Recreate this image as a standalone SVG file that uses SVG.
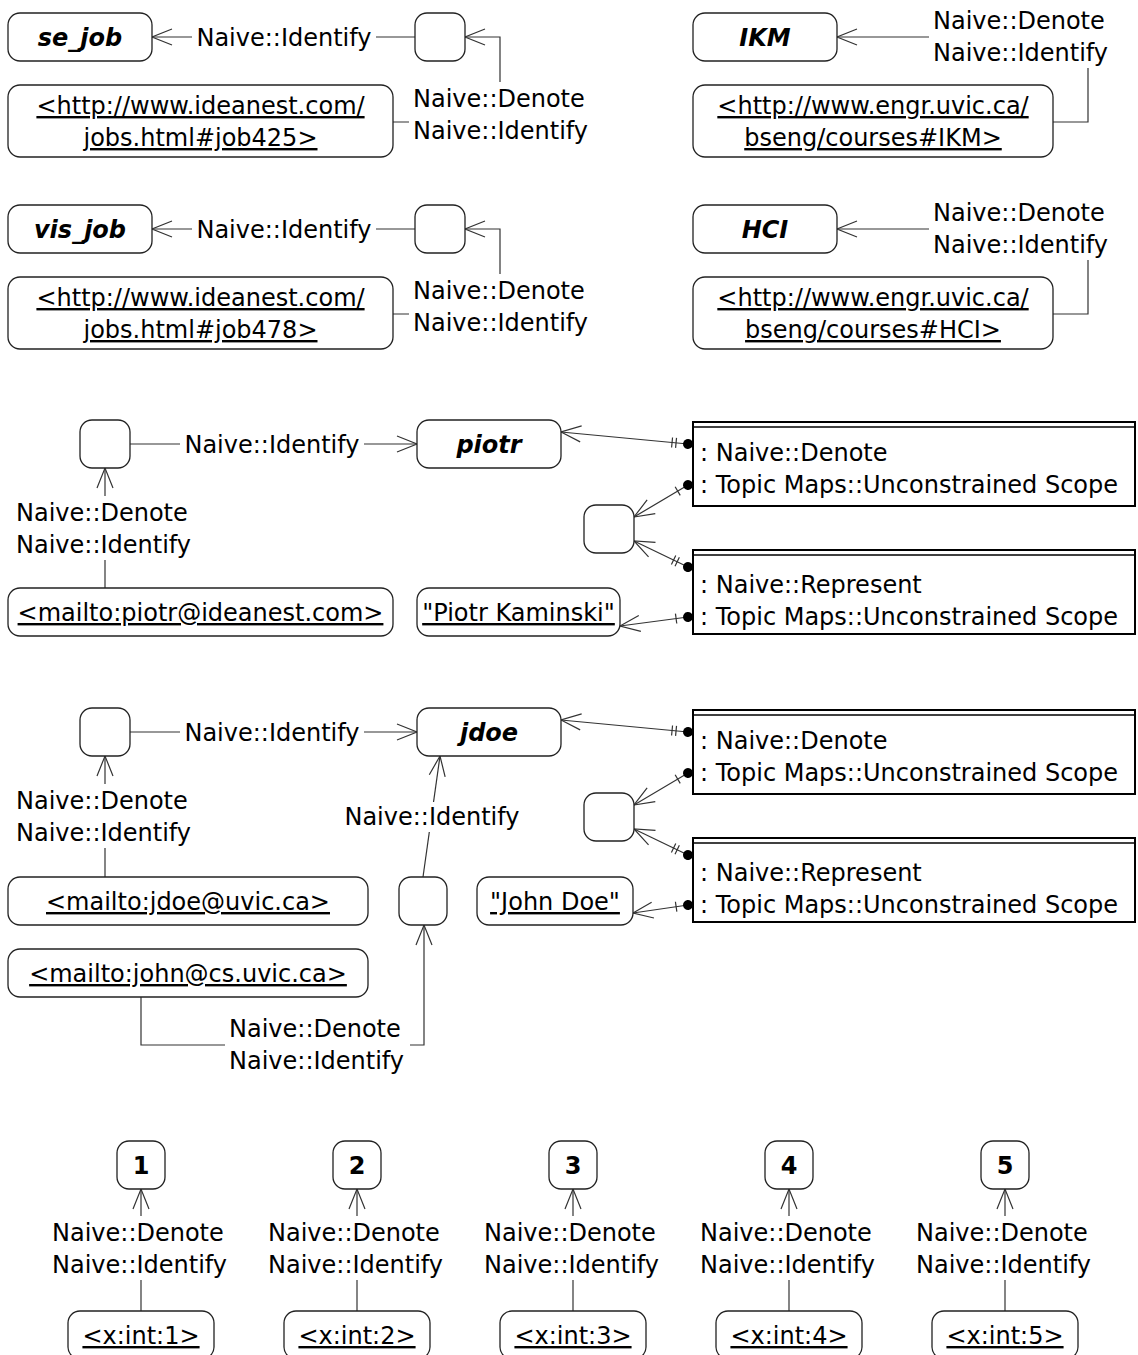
<svg xmlns="http://www.w3.org/2000/svg" width="1138" height="1355" viewBox="0 0 1138 1355">
<style>
text{font-family:"DejaVu Sans","Liberation Sans",sans-serif;font-size:24px;fill:#000}
.nm{font-weight:bold;font-style:italic;text-anchor:middle}
.num{font-weight:bold;text-anchor:middle}
.u{text-decoration:underline;text-anchor:middle}
.mid{text-anchor:middle}
.box{fill:#fff;stroke:#222;stroke-width:1.3}
.scope{fill:#fff;stroke:#000;stroke-width:2}
.dl{stroke:#000;stroke-width:1.5}
.c{fill:none;stroke:#333;stroke-width:1.2}
.bg{fill:#fff}
</style>
<defs>
<marker id="arr" viewBox="-22 -10 24 20" markerWidth="24" markerHeight="20" refX="0" refY="0" orient="auto" markerUnits="userSpaceOnUse">
<path d="M-20,-8 L0,0 L-20,8" fill="none" stroke="#333" stroke-width="1.2"/>
</marker>
<marker id="dot2" viewBox="-8 -8 28 16" markerWidth="28" markerHeight="16" refX="0" refY="0" orient="auto" markerUnits="userSpaceOnUse">
<circle cx="0" cy="0" r="5" fill="#000"/>
<path d="M12,-5 V5 M16,-5 V5" stroke="#333" stroke-width="1.2"/>
</marker>
<marker id="dot1" viewBox="-8 -8 28 16" markerWidth="28" markerHeight="16" refX="0" refY="0" orient="auto" markerUnits="userSpaceOnUse">
<circle cx="0" cy="0" r="5" fill="#000"/>
<path d="M12,-5 V5" stroke="#333" stroke-width="1.2"/>
</marker>
</defs>

<g id="connectors">
<!-- row 1 -->
<path class="c" d="M415,37 H152" marker-end="url(#arr)"/>
<rect class="bg" x="192" y="24" width="184" height="28"/>
<text class="mid" x="284" y="46">Naive::Identify</text>
<path class="c" d="M393,122 H500 V37 H465" marker-end="url(#arr)"/>
<rect class="bg" x="409" y="82" width="185" height="64"/>
<text x="413" y="107">Naive::Denote</text>
<text x="413" y="139">Naive::Identify</text>
<path class="c" d="M1053,122 H1088 V37 H837" marker-end="url(#arr)"/>
<rect class="bg" x="929" y="4" width="185" height="64"/>
<text x="933" y="29">Naive::Denote</text>
<text x="933" y="61">Naive::Identify</text>
<!-- row 2 -->
<path class="c" d="M415,229 H152" marker-end="url(#arr)"/>
<rect class="bg" x="192" y="216" width="184" height="28"/>
<text class="mid" x="284" y="238">Naive::Identify</text>
<path class="c" d="M393,314 H500 V229 H465" marker-end="url(#arr)"/>
<rect class="bg" x="409" y="274" width="185" height="64"/>
<text x="413" y="299">Naive::Denote</text>
<text x="413" y="331">Naive::Identify</text>
<path class="c" d="M1053,314 H1088 V229 H837" marker-end="url(#arr)"/>
<rect class="bg" x="929" y="196" width="185" height="64"/>
<text x="933" y="221">Naive::Denote</text>
<text x="933" y="253">Naive::Identify</text>
<!-- piotr -->
<path class="c" d="M130,444 H417" marker-end="url(#arr)"/>
<rect class="bg" x="180" y="431" width="184" height="28"/>
<text class="mid" x="272" y="453">Naive::Identify</text>
<path class="c" d="M105,588 V468" marker-end="url(#arr)"/>
<rect class="bg" x="12" y="496" width="186" height="64"/>
<text x="16" y="521">Naive::Denote</text>
<text x="16" y="553">Naive::Identify</text>
<path class="c" d="M688,444 L561,432" marker-start="url(#dot2)" marker-end="url(#arr)"/>
<path class="c" d="M688,485 L634,517" marker-start="url(#dot1)" marker-end="url(#arr)"/>
<path class="c" d="M688,567 L634,541" marker-start="url(#dot2)" marker-end="url(#arr)"/>
<path class="c" d="M688,617 L620,626" marker-start="url(#dot1)" marker-end="url(#arr)"/>
<!-- jdoe -->
<path class="c" d="M130,732 H417" marker-end="url(#arr)"/>
<rect class="bg" x="180" y="719" width="184" height="28"/>
<text class="mid" x="272" y="741">Naive::Identify</text>
<path class="c" d="M105,877 V756" marker-end="url(#arr)"/>
<rect class="bg" x="12" y="784" width="186" height="64"/>
<text x="16" y="809">Naive::Denote</text>
<text x="16" y="841">Naive::Identify</text>
<path class="c" d="M423,877 L440,756" marker-end="url(#arr)"/>
<rect class="bg" x="340" y="802" width="184" height="30"/>
<text class="mid" x="432" y="825">Naive::Identify</text>
<path class="c" d="M141,997 V1045 H424 V925" marker-end="url(#arr)"/>
<rect class="bg" x="225" y="1012" width="185" height="64"/>
<text x="229" y="1037">Naive::Denote</text>
<text x="229" y="1069">Naive::Identify</text>
<path class="c" d="M688,732 L561,720" marker-start="url(#dot2)" marker-end="url(#arr)"/>
<path class="c" d="M688,773 L634,805" marker-start="url(#dot1)" marker-end="url(#arr)"/>
<path class="c" d="M688,855 L634,829" marker-start="url(#dot2)" marker-end="url(#arr)"/>
<path class="c" d="M688,905 L633,913" marker-start="url(#dot1)" marker-end="url(#arr)"/>
<!-- bottom row -->
<path class="c" d="M141,1311 V1189" marker-end="url(#arr)"/>
<rect class="bg" x="48" y="1216" width="186" height="64"/>
<text x="52" y="1241">Naive::Denote</text>
<text x="52" y="1273">Naive::Identify</text>
<path class="c" d="M357,1311 V1189" marker-end="url(#arr)"/>
<rect class="bg" x="264" y="1216" width="186" height="64"/>
<text x="268" y="1241">Naive::Denote</text>
<text x="268" y="1273">Naive::Identify</text>
<path class="c" d="M573,1311 V1189" marker-end="url(#arr)"/>
<rect class="bg" x="480" y="1216" width="186" height="64"/>
<text x="484" y="1241">Naive::Denote</text>
<text x="484" y="1273">Naive::Identify</text>
<path class="c" d="M789,1311 V1189" marker-end="url(#arr)"/>
<rect class="bg" x="696" y="1216" width="186" height="64"/>
<text x="700" y="1241">Naive::Denote</text>
<text x="700" y="1273">Naive::Identify</text>
<path class="c" d="M1005,1311 V1189" marker-end="url(#arr)"/>
<rect class="bg" x="912" y="1216" width="186" height="64"/>
<text x="916" y="1241">Naive::Denote</text>
<text x="916" y="1273">Naive::Identify</text>
</g>

<g id="se_job"><rect class="box" x="8" y="13" width="144" height="48" rx="12"/><text class="nm" x="80" y="46">se_job</text></g>
<g id="anon1"><rect class="box" x="415" y="13" width="50" height="48" rx="12"/></g>
<g id="url_job425"><rect class="box" x="8" y="85" width="385" height="72" rx="12"/><text class="u" x="200.5" y="114">&lt;http://www.ideanest.com/</text><text class="u" x="200.5" y="146">jobs.html#job425&gt;</text></g>
<g id="ikm"><rect class="box" x="693" y="13" width="144" height="48" rx="12"/><text class="nm" x="765" y="46">IKM</text></g>
<g id="url_ikm"><rect class="box" x="693" y="85" width="360" height="72" rx="12"/><text class="u" x="873" y="114">&lt;http://www.engr.uvic.ca/</text><text class="u" x="873" y="146">bseng/courses#IKM&gt;</text></g>

<g id="vis_job"><rect class="box" x="8" y="205" width="144" height="48" rx="12"/><text class="nm" x="80" y="238">vis_job</text></g>
<g id="anon2"><rect class="box" x="415" y="205" width="50" height="48" rx="12"/></g>
<g id="url_job478"><rect class="box" x="8" y="277" width="385" height="72" rx="12"/><text class="u" x="200.5" y="306">&lt;http://www.ideanest.com/</text><text class="u" x="200.5" y="338">jobs.html#job478&gt;</text></g>
<g id="hci"><rect class="box" x="693" y="205" width="144" height="48" rx="12"/><text class="nm" x="765" y="238">HCI</text></g>
<g id="url_hci"><rect class="box" x="693" y="277" width="360" height="72" rx="12"/><text class="u" x="873" y="306">&lt;http://www.engr.uvic.ca/</text><text class="u" x="873" y="338">bseng/courses#HCI&gt;</text></g>

<g id="anon3"><rect class="box" x="80" y="420" width="50" height="48" rx="12"/></g>
<g id="piotr"><rect class="box" x="417" y="420" width="144" height="48" rx="12"/><text class="nm" x="489" y="453">piotr</text></g>
<g id="mail_piotr"><rect class="box" x="8" y="588" width="385" height="48" rx="12"/><text class="u" x="200.5" y="621">&lt;mailto:piotr@ideanest.com&gt;</text></g>
<g id="scope_p1"><rect class="scope" x="693" y="422" width="442" height="84"/><line class="dl" x1="693" y1="427" x2="1135" y2="427"/><text x="700" y="461">: Naive::Denote</text><text x="700" y="493">: Topic Maps::Unconstrained Scope</text></g>
<g id="scope_p2"><rect class="scope" x="693" y="550" width="442" height="84"/><line class="dl" x1="693" y1="555" x2="1135" y2="555"/><text x="700" y="593">: Naive::Represent</text><text x="700" y="625">: Topic Maps::Unconstrained Scope</text></g>
<g id="anon4"><rect class="box" x="584" y="505" width="50" height="48" rx="12"/></g>
<g id="name_piotr"><rect class="box" x="417" y="588" width="203" height="48" rx="12"/><text class="u" x="518.5" y="621">"Piotr Kaminski"</text></g>

<g id="anon5"><rect class="box" x="80" y="708" width="50" height="48" rx="12"/></g>
<g id="jdoe"><rect class="box" x="417" y="708" width="144" height="48" rx="12"/><text class="nm" x="489" y="741">jdoe</text></g>
<g id="scope_j1"><rect class="scope" x="693" y="710" width="442" height="84"/><line class="dl" x1="693" y1="715" x2="1135" y2="715"/><text x="700" y="749">: Naive::Denote</text><text x="700" y="781">: Topic Maps::Unconstrained Scope</text></g>
<g id="scope_j2"><rect class="scope" x="693" y="838" width="442" height="84"/><line class="dl" x1="693" y1="843" x2="1135" y2="843"/><text x="700" y="881">: Naive::Represent</text><text x="700" y="913">: Topic Maps::Unconstrained Scope</text></g>
<g id="anon6"><rect class="box" x="584" y="793" width="50" height="48" rx="12"/></g>
<g id="name_jdoe"><rect class="box" x="477" y="877" width="156" height="48" rx="12"/><text class="u" x="555" y="910">"John Doe"</text></g>
<g id="mail_jdoe"><rect class="box" x="8" y="877" width="360" height="48" rx="12"/><text class="u" x="188" y="910">&lt;mailto:jdoe@uvic.ca&gt;</text></g>
<g id="mail_john"><rect class="box" x="8" y="949" width="360" height="48" rx="12"/><text class="u" x="188" y="982">&lt;mailto:john@cs.uvic.ca&gt;</text></g>
<g id="anon7"><rect class="box" x="399" y="877" width="48" height="48" rx="12"/></g>

<g id="n1"><rect class="box" x="117" y="1141" width="48" height="48" rx="12"/><text class="num" x="141" y="1174">1</text></g>
<g id="n2"><rect class="box" x="333" y="1141" width="48" height="48" rx="12"/><text class="num" x="357" y="1174">2</text></g>
<g id="n3"><rect class="box" x="549" y="1141" width="48" height="48" rx="12"/><text class="num" x="573" y="1174">3</text></g>
<g id="n4"><rect class="box" x="765" y="1141" width="48" height="48" rx="12"/><text class="num" x="789" y="1174">4</text></g>
<g id="n5"><rect class="box" x="981" y="1141" width="48" height="48" rx="12"/><text class="num" x="1005" y="1174">5</text></g>
<g id="xint1"><rect class="box" x="68" y="1311" width="146" height="48" rx="12"/><text class="u" x="141" y="1344">&lt;x:int:1&gt;</text></g>
<g id="xint2"><rect class="box" x="284" y="1311" width="146" height="48" rx="12"/><text class="u" x="357" y="1344">&lt;x:int:2&gt;</text></g>
<g id="xint3"><rect class="box" x="500" y="1311" width="146" height="48" rx="12"/><text class="u" x="573" y="1344">&lt;x:int:3&gt;</text></g>
<g id="xint4"><rect class="box" x="716" y="1311" width="146" height="48" rx="12"/><text class="u" x="789" y="1344">&lt;x:int:4&gt;</text></g>
<g id="xint5"><rect class="box" x="932" y="1311" width="146" height="48" rx="12"/><text class="u" x="1005" y="1344">&lt;x:int:5&gt;</text></g>
</svg>
